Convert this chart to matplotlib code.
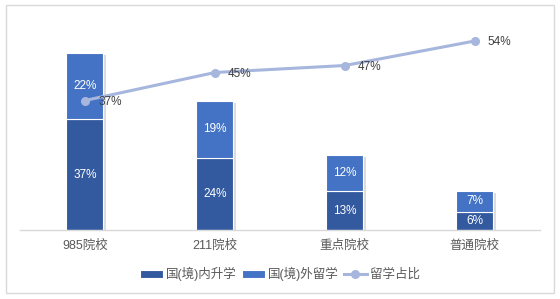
import matplotlib
matplotlib.use("Agg")
import matplotlib.pyplot as plt
from matplotlib.patches import Rectangle
import numpy as np

plt.rcParams['font.family'] = ['Liberation Sans', 'Noto Sans CJK SC', 'DejaVu Sans']

categories = ['985院校', '211院校', '重点院校', '普通院校']
domestic = [37, 24, 13, 6]
abroad = [22, 19, 12, 7]
abroad_ratio = [37, 45, 47, 54]
series_names = ['国(境)内升学', '国(境)外留学', '留学占比']

c_dark = '#33599f'
c_light = '#4472c4'
c_line = '#a6b6dc'
c_text = '#595959'

fig = plt.figure(figsize=(5.6, 2.99), dpi=100)
fig.patches.append(Rectangle((5.5/560, 1-292.5/299), 548.5/560, 288/299,
                             transform=fig.transFigure, fill=False,
                             edgecolor='#d9d9d9', linewidth=1.0, zorder=0))

ax = fig.add_axes([20/560, 1-230/299, 519.7/560, 210/299])
x = np.arange(len(categories))
w = 0.285

# shadows
ax.bar(x + 0.02, np.array(domestic) + np.array(abroad), w, bottom=-0.6,
       color='#d4d4d4', zorder=1, alpha=0.8, linewidth=0)
ax.bar(x, domestic, w, color=c_dark, edgecolor='white', linewidth=0.8, zorder=2, label=series_names[0])
ax.bar(x, abroad, w, bottom=domestic, color=c_light, edgecolor='white', linewidth=0.8, zorder=2, label=series_names[1])

for i in range(len(categories)):
    ax.text(x[i], domestic[i] / 2, f'{domestic[i]}%', ha='center', va='center',
            color='white', fontsize=8.5, zorder=3)
    ax.text(x[i], domestic[i] + abroad[i] / 2, f'{abroad[i]}%', ha='center', va='center',
            color='white', fontsize=8.5, zorder=3)

ax.set_xlim(-0.5, len(categories) - 0.5)
ax.set_ylim(0, 70)
ax.set_yticks([])
ax.set_xticks(x)
ax.set_xticklabels(categories, fontsize=9, color=c_text)
ax.tick_params(axis='x', length=0, pad=7)
for s in ['top', 'left', 'right']:
    ax.spines[s].set_visible(False)
ax.spines['bottom'].set_color('#d9d9d9')
ax.spines['bottom'].set_linewidth(1.0)
ax.set_facecolor('none')

ax2 = ax.twinx()
ax2.set_ylim(0, 60)
ax2.set_yticks([])
for s in ['top', 'left', 'right', 'bottom']:
    ax2.spines[s].set_visible(False)
ln, = ax2.plot(x, abroad_ratio, color=c_line, linewidth=2.2, marker='o',
               markersize=5.5, label=series_names[2], zorder=4)
for i in range(len(categories)):
    ax2.annotate(f'{abroad_ratio[i]}%', (x[i], abroad_ratio[i]), xytext=(9.5, -0.8),
                 textcoords='offset points', ha='left', va='center',
                 fontsize=8.5, color='#404040', zorder=5)

h1, l1 = ax.get_legend_handles_labels()
h2, l2 = ax2.get_legend_handles_labels()
leg = fig.legend(h1 + h2, l1 + l2, loc='center', bbox_to_anchor=(280/560, 1-274/299),
                 ncol=3, frameon=False, fontsize=9, handlelength=1.9, handleheight=0.6,
                 handletextpad=0.25, columnspacing=0.35, labelcolor=c_text)

fig.savefig('out.png', dpi=100)
